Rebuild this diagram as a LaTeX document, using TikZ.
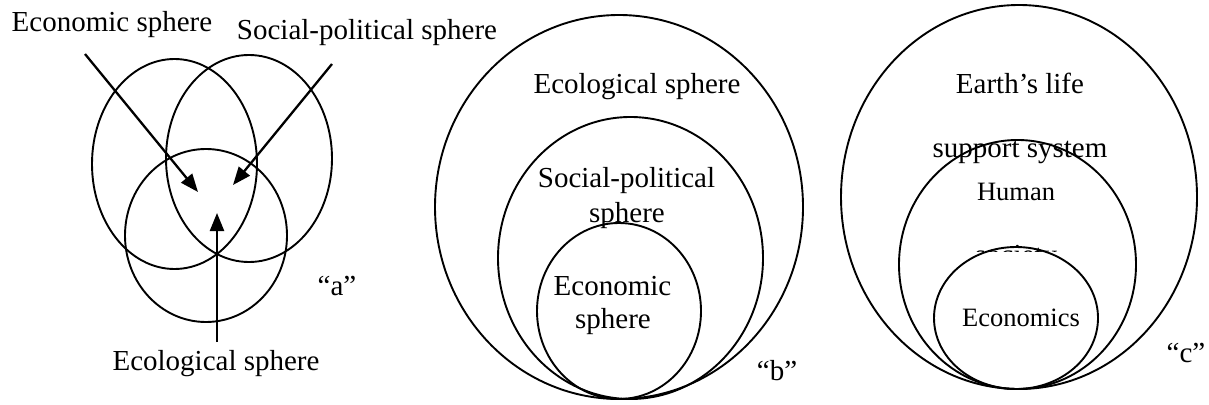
\documentclass[tikz,border=0pt]{standalone}
\usepackage{fontspec}
\setmainfont{Liberation Serif}
\usetikzlibrary{arrows.meta}
\begin{document}
\begin{tikzpicture}[x=1pt,y=-1pt,
  ring/.style={line width=1.9pt},
  pointer/.style={line width=2.3pt,-{Triangle[length=18pt,width=14pt]}},
  big/.style={inner sep=0pt,anchor=base,font=\fontsize{29}{34}\selectfont},
  small/.style={inner sep=0pt,anchor=base,font=\fontsize{26.5}{32}\selectfont}]
\useasboundingbox (0,0) rectangle (1209,404);
% ---- a ----
\draw[ring] (174.5,164) ellipse [x radius=82.5, y radius=105];
\draw[ring] (249,158.5) ellipse [x radius=83, y radius=103.5];
\draw[ring] (206,235.5) ellipse [x radius=81, y radius=86.5];
\node[big] (econA) at (112,32) {Economic sphere};
\node[big] (socA) at (367,40) {Social-political sphere};
\node[big] (ecoA) at (216,370) {Ecological sphere};
\node[big] (labA) at (337,295) {“a”};
\coordinate (e1) at (85,54);
\coordinate (e2) at (198,192);
\coordinate (s1) at (332,64);
\coordinate (s2) at (233,185);
\coordinate (g1) at (217,342);
\coordinate (g2) at (217,213);
\draw[pointer] (e1) -- (e2);
\draw[pointer] (s1) -- (s2);
\draw[pointer] (g1) -- (g2);
% ---- b ----
\draw[ring] (619,207) ellipse [x radius=184, y radius=192];
\draw[ring] (630.5,258) ellipse [x radius=132.5, y radius=141];
\draw[ring] (619,311) ellipse [x radius=82, y radius=88];
\node[big] (ecoB) at (637,93) {Ecological sphere};
\node[big] (socB1) at (626.5,187) {Social-political};
\node[big] (socB2) at (627,222) {sphere};
\node[big] (ecnB1) at (612.5,295) {Economic};
\node[big] (ecnB2) at (613,328) {sphere};
\node[big] (labB) at (777,380) {“b”};
% ---- c ----
\draw[ring] (1019,197) ellipse [x radius=178, y radius=192];
\draw[ring] (1017.5,264.5) ellipse [x radius=118.5, y radius=124.5];
\draw[ring] (1016,318) ellipse [x radius=82, y radius=71];
\node[big] (earC1) at (1020,93) {Earth’s life};
\node[big] (earC2) at (1020,157) {support system};
\node[small] (humC) at (1016,200) {Human};
\begin{scope}
\clip (960,240) rectangle (1075,251);
\node[big] (socC) at (1016,264) {society};
\end{scope}
\node[small] (ecnC) at (1021,326) {Economics};
\node[big] (labC) at (1186,362) {“c”};
\end{tikzpicture}
\end{document}
